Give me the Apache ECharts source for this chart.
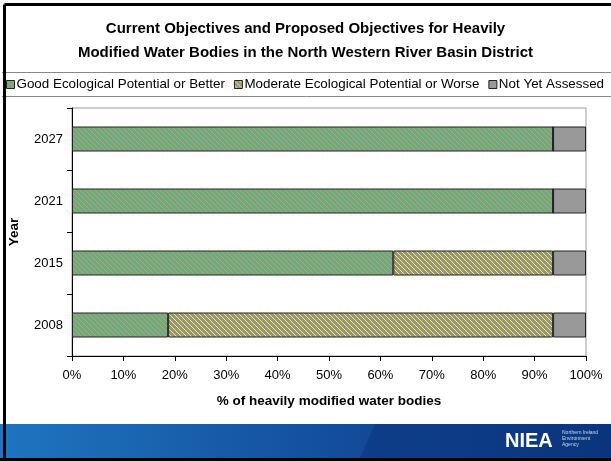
<!DOCTYPE html>
<html><head><meta charset="utf-8">
<script src="https://cdn.jsdelivr.net/npm/echarts@6/dist/echarts.min.js"></script>
<style>html,body{margin:0;padding:0;background:#fff}#c{width:611px;height:461px}</style>
</head><body><div id="c"></div>
<script>
const years = ['2008', '2015', '2021', '2027'];
const goodOrBetter = [18.7, 62.5, 93.6, 93.6];
const moderateOrWorse = [74.9, 31.1, 0, 0];
const notAssessed = [6.4, 6.4, 6.4, 6.4];
const xTicks = [0, 10, 20, 30, 40, 50, 60, 70, 80, 90, 100];
const seriesNames = ['Good Ecological Potential or Better', 'Moderate Ecological Potential or Worse', 'Not Yet Assessed'];

function stripes(fg, bg) {
  const n = 10;
  const c = document.createElement('canvas');
  c.width = n; c.height = n;
  const g = c.getContext('2d');
  g.fillStyle = bg; g.fillRect(0, 0, n, n);
  g.fillStyle = fg;
  for (let y = 0; y < n; y++) for (let x = 0; x < n; x++) {
    if (((x - y) % 5 + 5) % 5 === 0) g.fillRect(x, y, 1, 1);
  }
  return { image: c, repeat: 'repeat' };
}
const greenPat = stripes('#22ff22', '#939393');
const yellowPat = stripes('#ffff00', '#939393');

const chart = echarts.init(document.getElementById('c'), null, { renderer: 'canvas' });
const font = 'Arial, "Liberation Sans", sans-serif';
const mk = (name, data, color) => ({
  name, type: 'bar', stack: 'all', data, barWidth: 25,
  itemStyle: { color, borderColor: '#222', borderWidth: 1 },
  emphasis: { disabled: true }
});
chart.setOption({
  animation: false,
  textStyle: { fontFamily: font },
  title: {
    text: 'Current Objectives and Proposed Objectives for Heavily\nModified Water Bodies in the North Western River Basin District',
    left: 'center', top: 12,
    textStyle: { fontFamily: font, fontSize: 15, fontWeight: 'bold', color: '#000', lineHeight: 24 }
  },
  legend: {
    top: 78, left: 6, width: 605, padding: 0, itemWidth: 8, itemHeight: 8, itemGap: 9,
    icon: 'rect',
    itemStyle: { borderColor: '#222', borderWidth: 1 },
    textStyle: { fontFamily: font, fontSize: 13.4, color: '#000', padding: [0, 0, 0, -3] },
    data: seriesNames
  },
  grid: { left: 72, right: 25, top: 108, bottom: 105, show: true, borderColor: '#999', borderWidth: 1, outerBoundsMode: 'none', containLabel: false },
  xAxis: {
    type: 'value', min: 0, max: 100, interval: 10,
    name: '% of heavily modified water bodies', nameLocation: 'middle', nameGap: 38,
    nameTextStyle: { fontFamily: font, fontSize: 13.5, fontWeight: 'bold', color: '#000' },
    axisLine: { show: true, lineStyle: { color: '#000' } },
    axisTick: { show: true, length: 5, lineStyle: { color: '#000' } },
    axisLabel: { formatter: v => v + '%', margin: 13, fontSize: 13, color: '#000', fontFamily: font },
    splitLine: { show: false }
  },
  yAxis: {
    type: 'category', data: years,
    name: 'Year', nameLocation: 'middle', nameGap: 51, nameRotate: 90,
    nameTextStyle: { fontFamily: font, fontSize: 13.5, fontWeight: 'bold', color: '#000' },
    axisLine: { show: true, lineStyle: { color: '#000' } },
    axisTick: { show: true, length: 5, lineStyle: { color: '#000' } },
    axisLabel: { margin: 9, fontSize: 13, color: '#000', fontFamily: font }
  },
  series: [
    mk(seriesNames[0], goodOrBetter, greenPat),
    mk(seriesNames[1], moderateOrWorse, yellowPat),
    mk(seriesNames[2], notAssessed, '#999999')
  ],
  graphic: [
    { type: 'line', shape: { x1: 2, y1: 72.5, x2: 611, y2: 72.5 }, style: { stroke: '#888', lineWidth: 1 } },
    { type: 'line', shape: { x1: 2, y1: 96.5, x2: 611, y2: 96.5 }, style: { stroke: '#888', lineWidth: 1 } },
    { type: 'rect', shape: { x: 0, y: 424, width: 611, height: 34 },
      style: { fill: new echarts.graphic.LinearGradient(0, 0, 1, 0, [
        { offset: 0, color: '#1f75c0' }, { offset: 0.6, color: '#124a98' }, { offset: 1, color: '#0c3d88' }]) } },
    { type: 'polygon', shape: { points: [[360, 458], [375, 424], [611, 424], [611, 458]] },
      style: { fill: 'rgba(10,40,110,0.35)' } },
    { type: 'text', x: 505, y: 431, style: { text: 'NIEA', fill: '#fff', font: 'bold 20px Arial' } },
    { type: 'text', x: 562, y: 430, style: { text: 'Northern Ireland\nEnvironment\nAgency', fill: '#c8d8f0', font: '5px Arial', lineHeight: 6 } },
    { type: 'line', shape: { x1: 4.5, y1: 4.5, x2: 611, y2: 4.5 }, style: { stroke: '#000', lineWidth: 3 } },
    { type: 'line', shape: { x1: 4.5, y1: 4.5, x2: 4.5, y2: 461 }, style: { stroke: '#000', lineWidth: 3 } },
    { type: 'line', shape: { x1: 0, y1: 459.5, x2: 611, y2: 459.5 }, style: { stroke: '#000', lineWidth: 3 } }
  ]
});
</script></body></html>
